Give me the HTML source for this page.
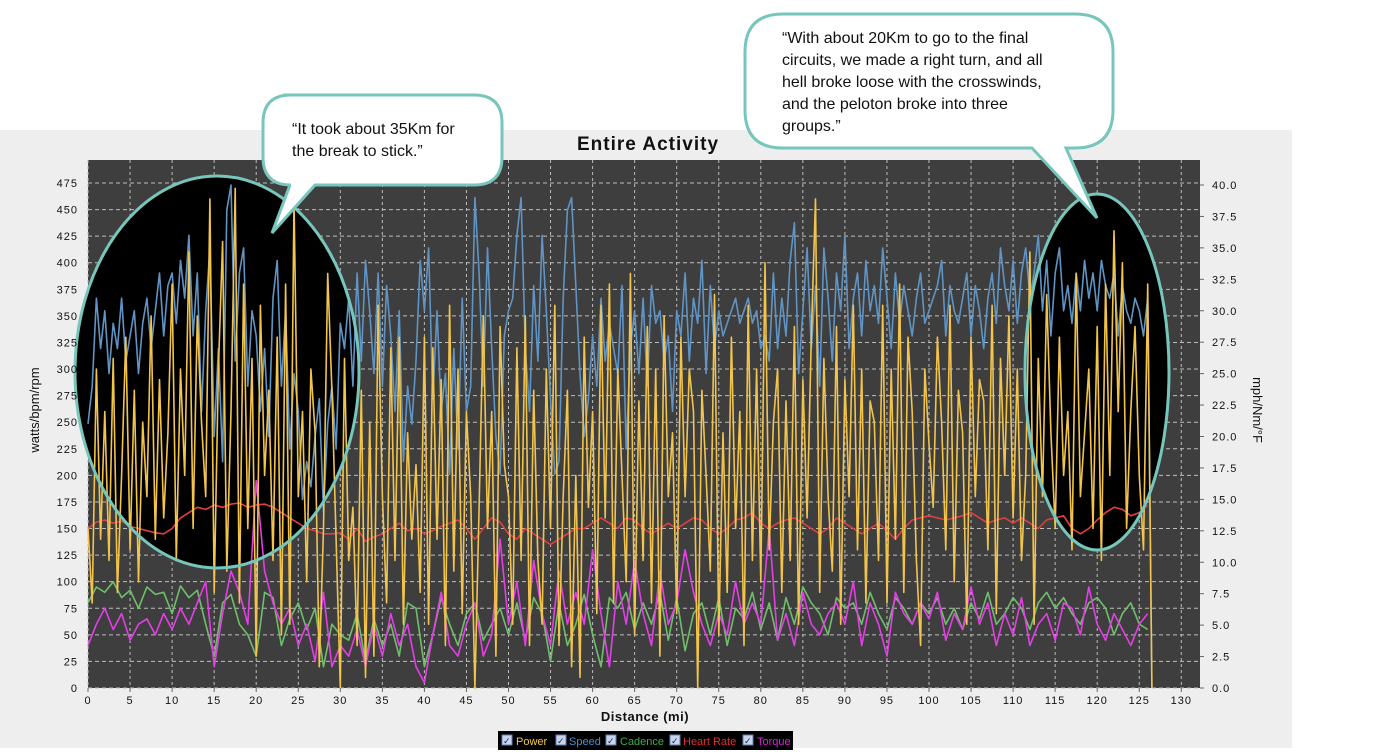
<!DOCTYPE html>
<html><head><meta charset="utf-8">
<style>
html,body{margin:0;padding:0;background:#fff;width:1380px;height:752px;overflow:hidden;font-family:"Liberation Sans",sans-serif}
svg{display:block}
</style></head>
<body>
<svg id="chart" width="1380" height="752" xmlns="http://www.w3.org/2000/svg">
<rect x="0" y="130" width="1292" height="618" fill="#eeeeee"/>
<rect x="88" y="160" width="1112" height="528" fill="#3e3e3e"/>
<g id="grid"></g>
<g id="ellipses">
<ellipse cx="217" cy="372" rx="142" ry="196" fill="#000"/>
<ellipse cx="1097" cy="372" rx="72" ry="178" fill="#000"/>
</g>
<g id="series"></g>
<g fill="none" stroke="#77c6bc" stroke-width="3">
<ellipse cx="217" cy="372" rx="142" ry="196"/>
<ellipse cx="1097" cy="372" rx="72" ry="178"/>
</g>
<g id="axes"></g>
<text x="648" y="150" text-anchor="middle" font-size="19" font-weight="bold" fill="#111" letter-spacing="1">Entire Activity</text>
<text transform="translate(39,410) rotate(-90)" text-anchor="middle" font-size="13" fill="#111">watts/bpm/rpm</text>
<text transform="translate(1253,410) rotate(90)" text-anchor="middle" font-size="13" fill="#111">mph/Nm/°F</text>
<text x="645" y="721" text-anchor="middle" font-size="13" font-weight="bold" fill="#111" letter-spacing="0.5">Distance (mi)</text>
<g font-size="11">
<rect x="498" y="731" width="295" height="19" fill="#000"/>
<g><rect x="502" y="735" width="10" height="10" fill="#c8d4ee" stroke="#6080b0"/><text x="503" y="744" font-size="9" fill="#224">✓</text><text x="516" y="745" fill="#f5c842">Power</text></g>
<g><rect x="556" y="735" width="10" height="10" fill="#c8d4ee" stroke="#6080b0"/><text x="557" y="744" font-size="9" fill="#224">✓</text><text x="569" y="745" fill="#4a90d0">Speed</text></g>
<g><rect x="606" y="735" width="10" height="10" fill="#c8d4ee" stroke="#6080b0"/><text x="607" y="744" font-size="9" fill="#224">✓</text><text x="620" y="745" fill="#3cb043">Cadence</text></g>
<g><rect x="670" y="735" width="10" height="10" fill="#c8d4ee" stroke="#6080b0"/><text x="671" y="744" font-size="9" fill="#224">✓</text><text x="683" y="745" fill="#e03030">Heart Rate</text></g>
<g><rect x="743" y="735" width="10" height="10" fill="#c8d4ee" stroke="#6080b0"/><text x="744" y="744" font-size="9" fill="#224">✓</text><text x="757" y="745" fill="#e020e0">Torque</text></g>
</g>
<g>
<path d="M283,95 H474 Q502,95 502,123 V157 Q502,185 474,185 H315 L272,233 L290,185 H291 Q263,185 263,157 V123 Q263,95 291,95 Z" fill="#fff" stroke="#77c6bc" stroke-width="3"/>
<text x="292" y="134" font-size="16" fill="#111">“It took about 35Km for</text>
<text x="292" y="156" font-size="16" fill="#111">the break to stick.”</text>
</g>
<g>
<path d="M790,14 H1075 Q1113,14 1113,52 V110 Q1113,148 1075,148 H1066 L1097,218 L1032,148 H783 Q745,148 745,110 V52 Q745,14 783,14 Z" fill="#fff" stroke="#77c6bc" stroke-width="3"/>
<text x="782" y="43" font-size="16" fill="#111">“With about 20Km to go to the final</text>
<text x="782" y="65" font-size="16" fill="#111">circuits, we made a right turn, and all</text>
<text x="782" y="87" font-size="16" fill="#111">hell broke loose with the crosswinds,</text>
<text x="782" y="109" font-size="16" fill="#111">and the peloton broke into three</text>
<text x="782" y="131" font-size="16" fill="#111">groups.”</text>
</g>
</svg>
<script>
const xTicks=[0,5,10,15,20,25,30,35,40,45,50,55,60,65,70,75,80,85,90,95,100,105,110,115,120,125,130];
const leftTicks=[0,25,50,75,100,125,150,175,200,225,250,275,300,325,350,375,400,425,450,475];
const rightTicks=["0.0","2.5","5.0","7.5","10.0","12.5","15.0","17.5","20.0","22.5","25.0","27.5","30.0","32.5","35.0","37.5","40.0"];
// power (watts) every 0.5 mi
const power=[150,80,300,140,260,120,310,90,200,330,130,280,100,250,180,350,140,290,160,240,
380,120,300,200,410,150,350,250,180,460,90,300,420,110,260,470,80,380,150,310,
30,360,200,280,120,330,50,380,60,460,180,260,100,300,240,20,150,390,280,140,
0,310,120,170,40,280,10,250,30,360,180,80,320,120,330,60,240,140,210,90,
330,60,320,140,290,40,360,110,300,70,260,180,0,170,350,150,260,30,340,210,
180,60,320,120,350,40,280,120,60,300,150,360,40,180,280,20,200,10,330,170,
260,70,360,160,380,80,300,200,100,390,50,270,120,340,80,300,30,350,180,240,
70,330,180,300,260,0,280,200,110,370,50,240,90,330,150,260,40,360,120,300,
100,400,130,250,300,90,270,120,340,60,290,160,330,460,90,310,180,110,340,60,
290,180,360,130,300,80,270,250,120,360,80,300,140,380,90,330,260,120,40,300,
230,170,330,250,130,360,100,280,240,60,330,180,290,270,130,360,70,310,200,350,
160,300,120,200,410,60,310,180,370,240,150,330,200,260,130,390,180,240,300,150,
340,120,380,200,430,260,400,150,260,340,200,130,380,0];
// speed (mph) every 0.5 mi
const speed=[21,24,31,27,30,25,29,27,31,26,28,30,25,29,31,27,30,33,28,32,
33,29,34,31,36,28,33,22,30,35,20,27,18,38,40,26,33,35,24,30,
28,22,27,20,31,34,24,30,19,25,22,15,18,16,20,23,14,21,24,19,
29,27,31,24,33,26,34,30,25,33,24,32,28,22,30,18,24,21,26,34,
30,35,23,30,22,25,17,27,19,31,22,24,39,33,24,35,27,20,17,28,
30,31,36,39,27,22,32,26,36,30,23,17,18,31,38,39,32,25,20,23,
28,24,31,26,29,27,25,32,19,27,30,25,31,24,32,29,30,26,28,22,
30,28,33,26,31,29,34,25,32,27,30,28,29,30,31,29,30,31,29,30,
27,28,26,33,27,31,28,34,37,25,30,35,27,32,24,35,31,26,33,30,
36,27,31,33,28,34,30,32,29,35,31,27,33,29,32,30,28,31,33,29,
30,31,32,34,28,32,30,29,31,33,28,32,30,27,31,33,29,35,32,30,
34,29,33,35,31,33,36,30,34,28,33,35,30,32,29,33,30,34,31,33,
30,34,32,31,33,28,32,30,29,31,30,28,31,0];
// heart rate (bpm) every mile
const heart=[150,156,158,155,157,152,150,148,146,145,150,160,165,170,168,172,170,173,174,170,
172,173,170,165,160,155,150,148,145,145,146,140,150,138,142,145,150,155,148,150,
145,148,152,155,158,150,140,150,160,156,145,140,150,145,140,135,140,145,150,150,
155,160,155,150,160,158,150,145,150,155,150,155,160,158,150,145,150,158,160,165,
155,150,155,158,160,155,150,145,150,160,155,150,145,150,155,148,140,150,158,160,
162,160,158,160,162,165,160,155,158,160,155,160,155,150,158,160,162,150,145,150,
158,165,170,168,162,165,172];
// cadence (rpm) every mile
const cadence=[80,95,90,100,85,92,75,95,88,90,70,96,85,92,60,30,80,88,60,50,
30,90,85,40,65,80,55,75,20,60,50,45,70,25,65,40,60,30,80,75,
20,50,85,60,40,70,80,45,60,75,50,80,45,85,70,25,80,40,60,88,
50,20,85,75,90,55,80,60,90,45,85,35,70,80,50,85,40,75,65,90,
55,80,45,85,60,95,80,70,50,85,75,80,60,90,70,55,85,75,60,80,
70,85,60,75,55,80,65,90,60,70,85,75,55,80,90,75,85,70,60,80,
85,75,50,70,80,60,55];
// torque every mile
const torque=[40,60,75,55,70,45,60,65,50,70,55,75,60,80,100,20,70,110,90,60,
195,110,80,60,75,40,60,25,90,20,40,30,55,20,60,30,70,40,60,20,
5,50,90,40,30,60,80,30,50,140,60,100,40,120,70,40,110,60,90,60,
130,70,20,100,60,120,70,40,110,60,80,130,90,60,40,70,50,100,60,80,
60,150,45,70,40,90,60,50,70,80,60,100,40,80,60,30,90,70,60,80,
65,90,45,70,55,95,60,80,40,70,50,85,40,60,70,45,80,75,50,95,
60,45,70,55,40,60,70];

const svgNS="http://www.w3.org/2000/svg";
const X0=88,X1=1181.3,Y0=688,YT=183;
function xs(d){return X0+d*(X1-X0)/130;}
function yl(v){return Y0-v*(Y0-YT)/475;}
function yr(v){return Y0-v*(Y0-185)/40;}
const grid=document.getElementById('grid');
const axes=document.getElementById('axes');
function el(tag,attrs,parent){const e=document.createElementNS(svgNS,tag);for(const k in attrs)e.setAttribute(k,attrs[k]);parent.appendChild(e);return e;}
xTicks.forEach(t=>{
  const gl=el('line',{x1:xs(t),x2:xs(t),y1:160,y2:688,stroke:'#bdbdbd','stroke-width':1,'stroke-dasharray':'3,3'},grid);
  
  
  const tk=el('line',{x1:xs(t),x2:xs(t),y1:688,y2:692,stroke:'#666'},axes);
  
  
  const tx=el('text',{x:xs(t),y:704,'text-anchor':'middle','font-size':11,fill:'#111','letter-spacing':'1'},axes);
  tx.textContent=t;
  
  
});
leftTicks.forEach(t=>{
  const gl=el('line',{x1:88,x2:1200,y1:yl(t),y2:yl(t),stroke:'#bdbdbd','stroke-width':1,'stroke-dasharray':'4,3'},grid);
  
  
  const tx=el('text',{x:78,y:yl(t)+4,'text-anchor':'end','font-size':11,fill:'#111','letter-spacing':'1'},axes);
  tx.textContent=t;
  
  
});
rightTicks.forEach(t=>{
  const v=parseFloat(t);
  const tk=el('line',{x1:1200,x2:1204,y1:yr(v),y2:yr(v),stroke:'#666'},axes);
  
  
  const tx=el('text',{x:1212,y:yr(v)+4,'font-size':11,fill:'#111','letter-spacing':'1'},axes);
  tx.textContent=t;
  
  
});
const ser=document.getElementById('series');
function line(arr,step,yf,color,name){
  const pts=arr.map((v,i)=>xs(i*step).toFixed(1)+','+yf(v).toFixed(1)).join(' ');
  const p=el('polyline',{points:pts,fill:'none',stroke:color,'stroke-width':1.6,'stroke-linejoin':'round'},ser);
  
  
}
line(cadence,1,yl,'#6fbf6a','cadence-line');
line(torque,1,yl,'#e43ee6','torque-line');
line(heart,1,yl,'#e04040','heart-rate-line');
line(speed,0.5,yr,'#5f94c4','speed-line');
line(power,0.5,yl,'#f2c44c','power-line');
</script>
</body></html>
